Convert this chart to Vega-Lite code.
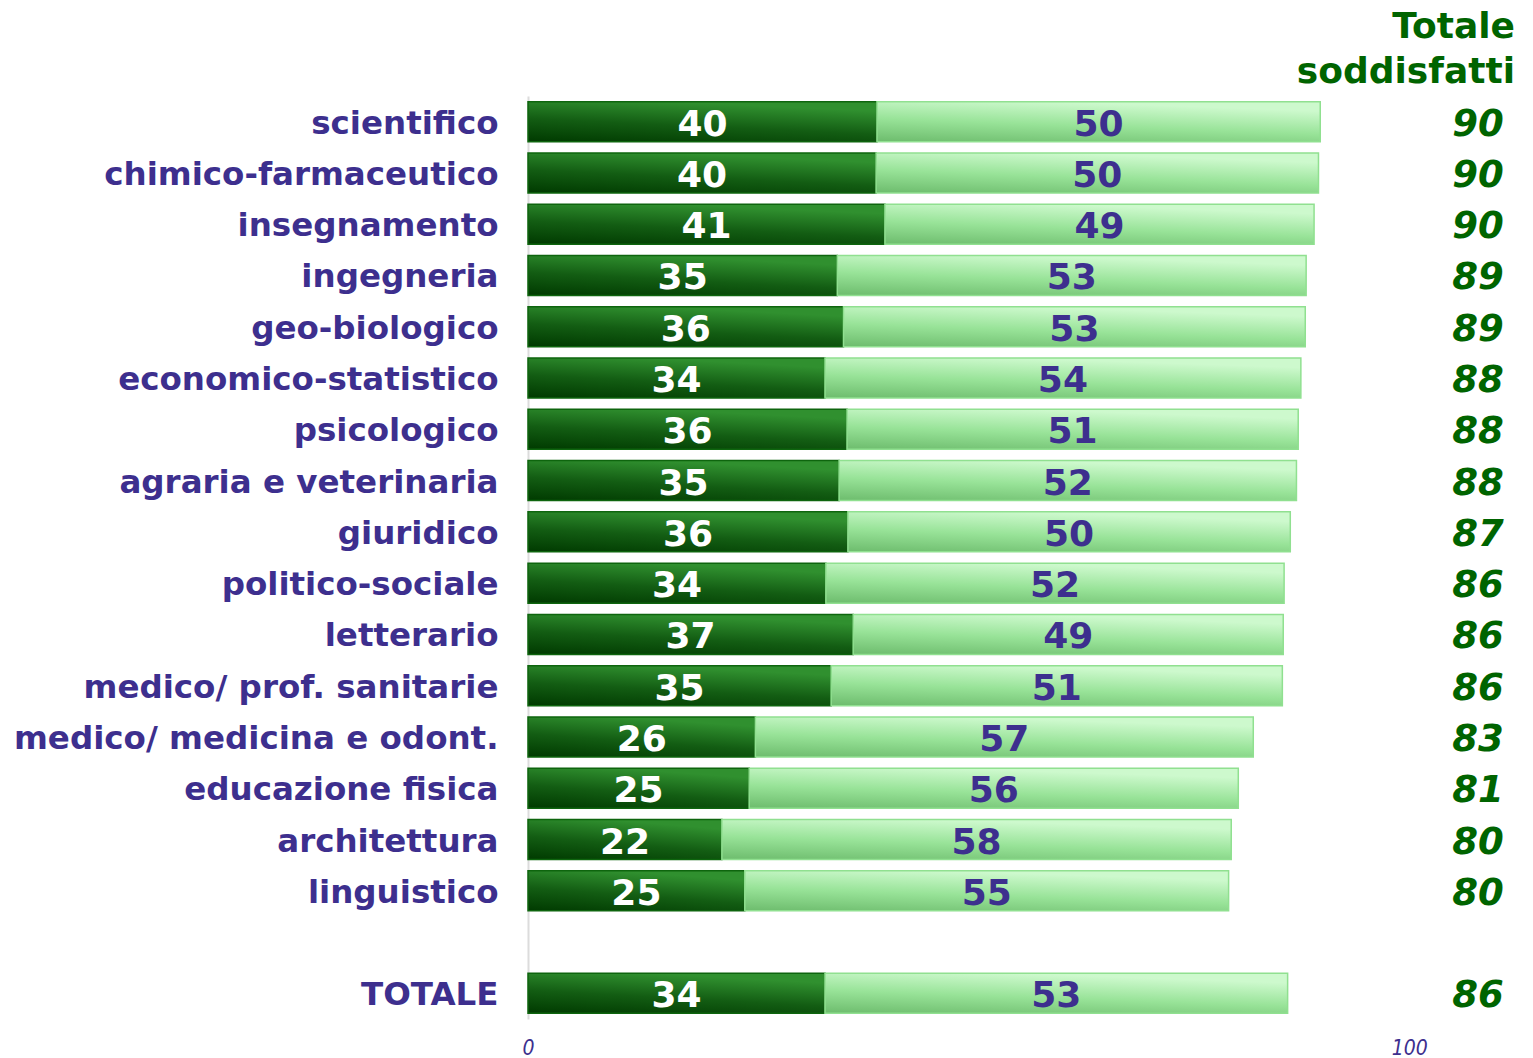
{
  "$schema": "https://vega.github.io/schema/vega-lite/v6.json",
  "width": 987,
  "height": 923,
  "autosize": {"type": "none"},
  "padding": {"left": 528, "top": 96, "right": 18, "bottom": 39},
  "background": "white",
  "title": {
    "text": ["Totale", "soddisfatti"],
    "anchor": "end",
    "align": "right",
    "frame": "group",
    "font": "DejaVu Sans",
    "fontWeight": "bold",
    "fontSize": 36,
    "lineHeight": 45,
    "color": "#006400",
    "offset": 5
  },
  "data": {
    "values": [
      {"cat": "scientifico", "seg": "a", "value": 39.6, "label": "40", "tot": "90"},
      {"cat": "scientifico", "seg": "b", "value": 50.3, "label": "50", "tot": "90"},
      {"cat": "chimico-farmaceutico", "seg": "a", "value": 39.5, "label": "40", "tot": "90"},
      {"cat": "chimico-farmaceutico", "seg": "b", "value": 50.2, "label": "50", "tot": "90"},
      {"cat": "insegnamento", "seg": "a", "value": 40.5, "label": "41", "tot": "90"},
      {"cat": "insegnamento", "seg": "b", "value": 48.7, "label": "49", "tot": "90"},
      {"cat": "ingegneria", "seg": "a", "value": 35.1, "label": "35", "tot": "89"},
      {"cat": "ingegneria", "seg": "b", "value": 53.2, "label": "53", "tot": "89"},
      {"cat": "geo-biologico", "seg": "a", "value": 35.8, "label": "36", "tot": "89"},
      {"cat": "geo-biologico", "seg": "b", "value": 52.4, "label": "53", "tot": "89"},
      {"cat": "economico-statistico", "seg": "a", "value": 33.7, "label": "34", "tot": "88"},
      {"cat": "economico-statistico", "seg": "b", "value": 54.0, "label": "54", "tot": "88"},
      {"cat": "psicologico", "seg": "a", "value": 36.2, "label": "36", "tot": "88"},
      {"cat": "psicologico", "seg": "b", "value": 51.2, "label": "51", "tot": "88"},
      {"cat": "agraria e veterinaria", "seg": "a", "value": 35.3, "label": "35", "tot": "88"},
      {"cat": "agraria e veterinaria", "seg": "b", "value": 51.9, "label": "52", "tot": "88"},
      {"cat": "giuridico", "seg": "a", "value": 36.3, "label": "36", "tot": "87"},
      {"cat": "giuridico", "seg": "b", "value": 50.2, "label": "50", "tot": "87"},
      {"cat": "politico-sociale", "seg": "a", "value": 33.8, "label": "34", "tot": "86"},
      {"cat": "politico-sociale", "seg": "b", "value": 52.0, "label": "52", "tot": "86"},
      {"cat": "letterario", "seg": "a", "value": 36.9, "label": "37", "tot": "86"},
      {"cat": "letterario", "seg": "b", "value": 48.8, "label": "49", "tot": "86"},
      {"cat": "medico/ prof. sanitarie", "seg": "a", "value": 34.4, "label": "35", "tot": "86"},
      {"cat": "medico/ prof. sanitarie", "seg": "b", "value": 51.2, "label": "51", "tot": "86"},
      {"cat": "medico/ medicina e odont.", "seg": "a", "value": 25.8, "label": "26", "tot": "83"},
      {"cat": "medico/ medicina e odont.", "seg": "b", "value": 56.5, "label": "57", "tot": "83"},
      {"cat": "educazione fisica", "seg": "a", "value": 25.1, "label": "25", "tot": "81"},
      {"cat": "educazione fisica", "seg": "b", "value": 55.5, "label": "56", "tot": "81"},
      {"cat": "architettura", "seg": "a", "value": 22.0, "label": "22", "tot": "80"},
      {"cat": "architettura", "seg": "b", "value": 57.8, "label": "58", "tot": "80"},
      {"cat": "linguistico", "seg": "a", "value": 24.6, "label": "25", "tot": "80"},
      {"cat": "linguistico", "seg": "b", "value": 54.9, "label": "55", "tot": "80"},
      {"cat": "TOTALE", "seg": "a", "value": 33.7, "label": "34", "tot": "86"},
      {"cat": "TOTALE", "seg": "b", "value": 52.5, "label": "53", "tot": "86"}
    ]
  },
  "encoding": {
    "y": {
      "field": "cat",
      "type": "nominal",
      "sort": null,
      "scale": {
        "domain": ["scientifico", "chimico-farmaceutico", "insegnamento", "ingegneria", "geo-biologico", "economico-statistico", "psicologico", "agraria e veterinaria", "giuridico", "politico-sociale", "letterario", "medico/ prof. sanitarie", "medico/ medicina e odont.", "educazione fisica", "architettura", "linguistico", " ", "TOTALE"],
        "paddingInner": 0.22,
        "paddingOuter": 0.11
      },
      "axis": {
        "title": null,
        "ticks": false,
        "domainColor": "#dcdcdc",
        "domainWidth": 2,
        "labelFont": "DejaVu Sans",
        "labelFontWeight": "bold",
        "labelFontSize": 32.5,
        "labelColor": "#3d2f8e",
        "labelPadding": 30,
        "labelOffset": 2,
        "labelLimit": 600
      }
    }
  },
  "layer": [
    {
      "mark": {"type": "bar", "strokeWidth": 1.5},
      "encoding": {
        "x": {
          "field": "value",
          "type": "quantitative",
          "stack": "zero",
          "scale": {"domain": [0, 112], "nice": false, "zero": true},
          "axis": {
            "title": null,
            "values": [0, 100],
            "grid": false,
            "ticks": false,
            "domain": false,
            "labelFlush": false,
            "labelFont": "'DejaVu Sans Condensed', 'Liberation Sans Narrow', 'Liberation Sans', sans-serif",
            "labelFontStyle": "italic",
            "labelFontSize": 21,
            "labelColor": "#3d2f8e",
            "labelPadding": 18
          }
        },
        "detail": {"field": "seg"},
        "order": {"field": "seg"},
        "fill": {
          "condition": {
            "test": "datum.seg === 'a'",
            "value": {
              "gradient": "linear",
              "x1": 0, "y1": 1, "x2": 0.4, "y2": 0,
              "stops": [
                {"offset": 0, "color": "#003a00"},
                {"offset": 0.5, "color": "#135d13"},
                {"offset": 1, "color": "#30902f"}
              ]
            }
          },
          "value": {
            "gradient": "linear",
            "x1": 0, "y1": 1, "x2": 0.4, "y2": 0,
            "stops": [
              {"offset": 0, "color": "#6dbc6d"},
              {"offset": 0.5, "color": "#98e398"},
              {"offset": 1, "color": "#cdf9cd"}
            ]
          }
        },
        "stroke": {
          "condition": {"test": "datum.seg === 'a'", "value": "#0e650e"},
          "value": "#90e090"
        }
      }
    },
    {
      "mark": {"type": "text", "font": "DejaVu Sans", "fontWeight": "bold", "fontSize": 36, "baseline": "middle", "dy": 3},
      "encoding": {
        "x": {"field": "value", "type": "quantitative", "stack": "zero", "bandPosition": 0.5},
        "detail": {"field": "seg"},
        "order": {"field": "seg"},
        "text": {"field": "label"},
        "color": {
          "condition": {"test": "datum.seg === 'a'", "value": "#ffffff"},
          "value": "#3d2f8e"
        }
      }
    },
    {
      "transform": [{"filter": "datum.seg === 'b'"}],
      "mark": {"type": "text", "font": "DejaVu Sans", "fontWeight": "bold", "fontStyle": "italic", "fontSize": 37, "baseline": "middle", "dy": 3, "color": "#006400"},
      "encoding": {
        "x": {"datum": 107.8},
        "text": {"field": "tot"}
      }
    }
  ],
  "config": {"view": {"stroke": null}}
}
